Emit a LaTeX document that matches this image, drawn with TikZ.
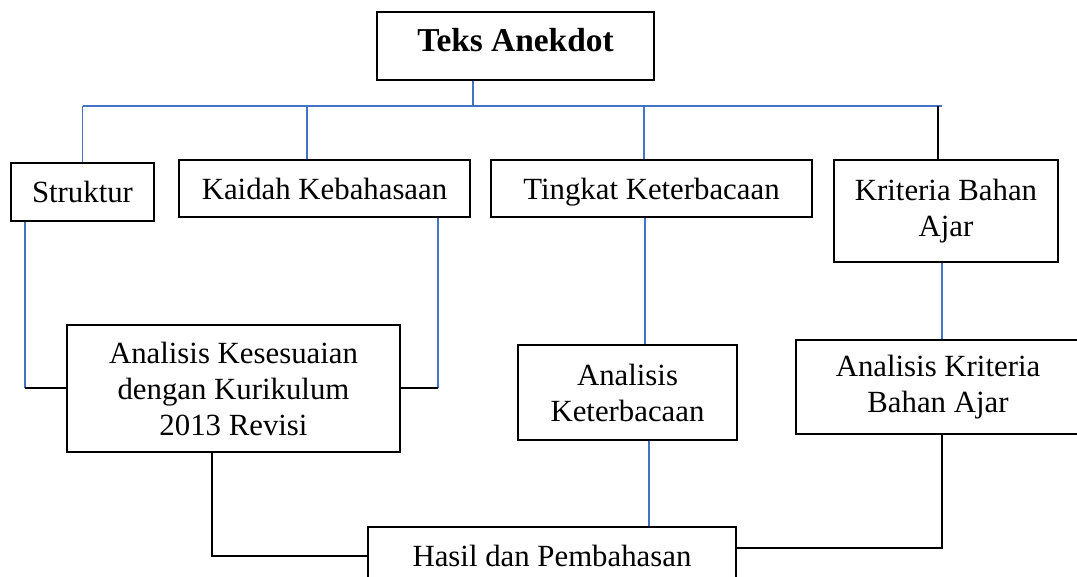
\documentclass[tikz,border=0pt]{standalone}
\usepackage{fontspec}
\setmainfont{Liberation Serif}
\usepackage{tikz}
\usetikzlibrary{calc}

\definecolor{linkblue}{RGB}{68,114,196}

\begin{document}
\begin{tikzpicture}[x=0.5pt, y=-0.5pt,
	box/.style={draw, line width=1pt, inner sep=0pt, align=center, font=\fontsize{15.4}{18}\selectfont},
	boxsize/.style 2 args={minimum width=#1*0.5pt, minimum height=#2*0.5pt},
	bluelink/.style={draw=linkblue, line width=0.6pt},
	blacklink/.style={draw=black, line width=1pt}]
	\useasboundingbox (0,0) rectangle (1077,577);
	\clip (0,0) rectangle (1077,577);

	\node[box, boxsize={277}{68}, font=\fontsize{16.7}{20}\selectfont\bfseries, text height=11pt, text depth=5pt] (teks) at (515.5,46) {Teks Anekdot};
	\node[box, boxsize={143}{58}] (struktur) at (82.5,192) {Struktur};
	\node[box, boxsize={291}{57}] (kaidah) at (324.5,188.5) {Kaidah Kebahasaan};
	\node[box, boxsize={321}{57}, text depth=0pt] (tingkat) at (651.5,188.5) {Tingkat Keterbacaan};
	\node[box, boxsize={224}{102}] (kriteria) at (946,211) {Kriteria Bahan\\Ajar};
	\node[box, boxsize={333}{127}] (kesesuaian) at (233.5,388.5) {Analisis Kesesuaian\\dengan Kurikulum\\2013 Revisi};
	\node[box, boxsize={219}{95}] (keterbacaan) at (627.5,392.5) {Analisis\\Keterbacaan};
	\node[box, boxsize={284}{94}] (akriteria) at (938,387) {Analisis Kriteria\\Bahan Ajar};
	\node[box, boxsize={368}{57}] (hasil) at (552,555.5) {Hasil dan Pembahasan};

	% bus below the title
	\coordinate (bus) at (0,106);
	\coordinate (tkjoin) at ($(teks.south)+(-42.5,0)$);
	\coordinate (kdtop) at ($(kaidah.north)+(-17.5,0)$);
	\coordinate (tgtop) at ($(tingkat.north)+(-7.5,0)$);
	\coordinate (krtop) at ($(kriteria.north)+(-8,0)$);
	\coordinate (busend) at ($(krtop |- bus)+(4,0)$);
	\draw[bluelink] (tkjoin) -- (tkjoin |- bus);
	\draw[bluelink] (struktur.north |- bus) -- (busend);
	\draw[bluelink] (struktur.north |- bus) -- (struktur.north);
	\draw[bluelink] (kdtop |- bus) -- (kdtop);
	\draw[bluelink] (tgtop |- bus) -- (tgtop);
	\draw[blacklink] (krtop |- bus) -- (krtop);

	% second level down
	\coordinate (stdown) at ($(struktur.south west)+(15,0)$);
	\draw[bluelink] (stdown) -- (stdown |- kesesuaian.west);
	\draw[blacklink] (stdown |- kesesuaian.west) -- (kesesuaian.west);
	\coordinate (kddown) at ($(kaidah.south east)+(-33,0)$);
	\draw[bluelink] (kddown) -- (kddown |- kesesuaian.east);
	\draw[blacklink] (kddown |- kesesuaian.east) -- (kesesuaian.east);
	\coordinate (tgdown) at ($(tingkat.south)+(-6.5,0)$);
	\draw[bluelink] (tgdown) -- (tgdown |- keterbacaan.north);
	\coordinate (krdown) at ($(kriteria.south)+(-4,0)$);
	\draw[bluelink] (krdown) -- (krdown |- akriteria.north);

	% into the results box
	\coordinate (ktdown) at ($(keterbacaan.south)+(21.5,0)$);
	\draw[bluelink] (ktdown) -- (ktdown |- hasil.north);
	\coordinate (ksdown) at ($(kesesuaian.south)+(-21.5,0)$);
	\draw[blacklink] (ksdown) |- (hasil.west);
	\coordinate (akdown) at ($(akriteria.south)+(4,0)$);
	\coordinate (hasilin) at ($(hasil.east)+(0,-7.5)$);
	\draw[blacklink] (akdown) |- (hasilin);
\end{tikzpicture}
\end{document}
